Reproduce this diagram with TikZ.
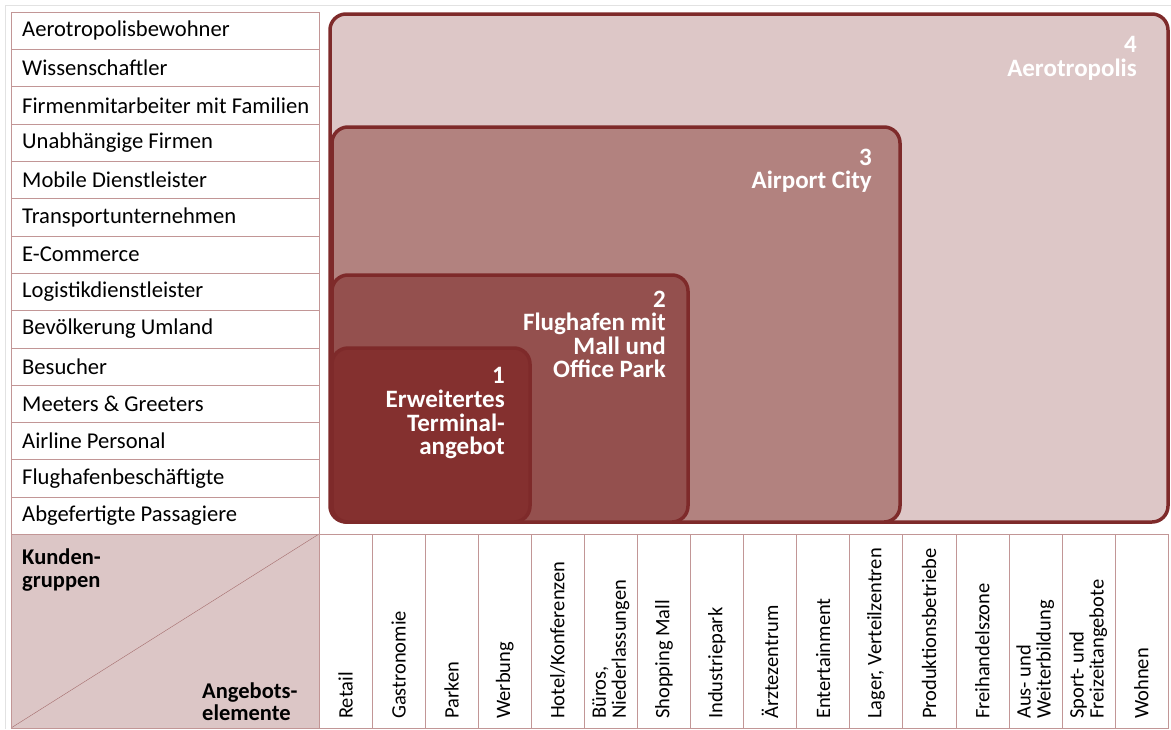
\documentclass[tikz,border=0pt]{standalone}
\usepackage{fontspec}
\setmainfont{Carlito}
\usepackage{tikz}
\definecolor{rimred}{HTML}{7E2A2A}
\definecolor{gridpink}{HTML}{C29696}
\definecolor{headpink}{HTML}{DCC6C6}
\definecolor{diagred}{HTML}{A46C6C}
\definecolor{framegray}{HTML}{E2E2E2}
\definecolor{zoneA}{HTML}{84302F}
\definecolor{zoneB}{HTML}{94504E}
\definecolor{zoneC}{HTML}{B2827F}
\definecolor{zoneD}{HTML}{DDC7C7}
\tikzset{
  zone/.style={draw=rimred,line width=3.5pt,rounded corners=16pt},
  zonelabel/.style={anchor=north east,inner sep=0pt,align=right,text=white,font=\fontsize{25}{23.6}\selectfont\bfseries},
  gruppe/.style={anchor=west,inner sep=0pt,font=\fontsize{22.6}{24}\selectfont},
  element/.style={anchor=west,rotate=90,inner sep=0pt,align=left,font=\fontsize{20.5}{20}\selectfont},
  eckbox/.style={inner sep=0pt,align=left,font=\fontsize{22.5}{22.5}\selectfont\bfseries},
}

\begin{document}
\begin{tikzpicture}[x=1pt,y=-1pt]
\useasboundingbox (0,0) rectangle (1171,729);
\draw[framegray] (5,729) -- (5,5) -- (1171,5);
% Kundengruppen
\foreach \i/\name in {1/Aerotropolisbewohner,2/Wissenschaftler,3/Firmenmitarbeiter mit Familien,
  4/Unabhängige Firmen,5/Mobile Dienstleister,6/Transportunternehmen,7/E-Commerce,
  8/Logistikdienstleister,9/Bevölkerung Umland,10/Besucher,11/Meeters \& Greeters,
  12/Airline Personal,13/Flughafenbeschäftigte,14/Abgefertigte Passagiere}{
  \draw[gridpink,fill=white] (11,{12+(\i-1)*37.3}) rectangle (319,{12+\i*37.3});
  \node[gruppe] (grp\i) at (22,{12+(\i-0.5)*37.3}) {\name};}
% Eckfeld
\fill[headpink] (11,534) rectangle (319,728);
\draw[diagred] (11,728) -- (319,534);
\draw[gridpink] (11,534) rectangle (319,728);
\node[eckbox,anchor=north west] (kunden) at (22,549) {Kunden-\\gruppen};
\node[eckbox,anchor=south west] (angebote) at (202,721) {Angebots-\\elemente};
% Angebotselemente
\foreach \j/\name in {1/Retail,2/Gastronomie,3/Parken,4/Werbung,5/{Hotel/Konferenzen},
  6/{Büros,\\Niederlassungen},7/Shopping Mall,8/Industriepark,9/Ärztezentrum,
  10/Entertainment,11/{Lager, Verteilzentren},12/Produktionsbetriebe,13/Freihandelszone,
  14/{Aus- und\\Weiterbildung},15/{Sport- und\\Freizeitangebote},16/Wohnen}{
  \draw[gridpink] ({319+(\j-1)*53.06},534) rectangle ({319+\j*53.06},728);
  \node[element] (elem\j) at ({319+(\j-0.5)*53.06},719) {\name};}
% Entwicklungsstufen
\draw[zone,fill=zoneD] (330,14) rectangle (1168,522);
\draw[zone,fill=zoneC] (332,127) rectangle (900,522);
\draw[zone,fill=zoneB] (332,275) rectangle (688,522);
\draw[zone,fill=zoneA] (332,348) rectangle (530,522);
\node[zonelabel] (stufe4) at (1137,36.5) {4\\Aerotropolis};
\node[zonelabel] (stufe3) at (872,148.5) {3\\Airport City};
\node[zonelabel] (stufe2) at (666,290.5) {2\\Flughafen mit\\Mall und\\Office Park};
\node[zonelabel] (stufe1) at (505,367.5) {1\\Erweitertes\\Terminal-\\angebot};
\end{tikzpicture}
\end{document}
